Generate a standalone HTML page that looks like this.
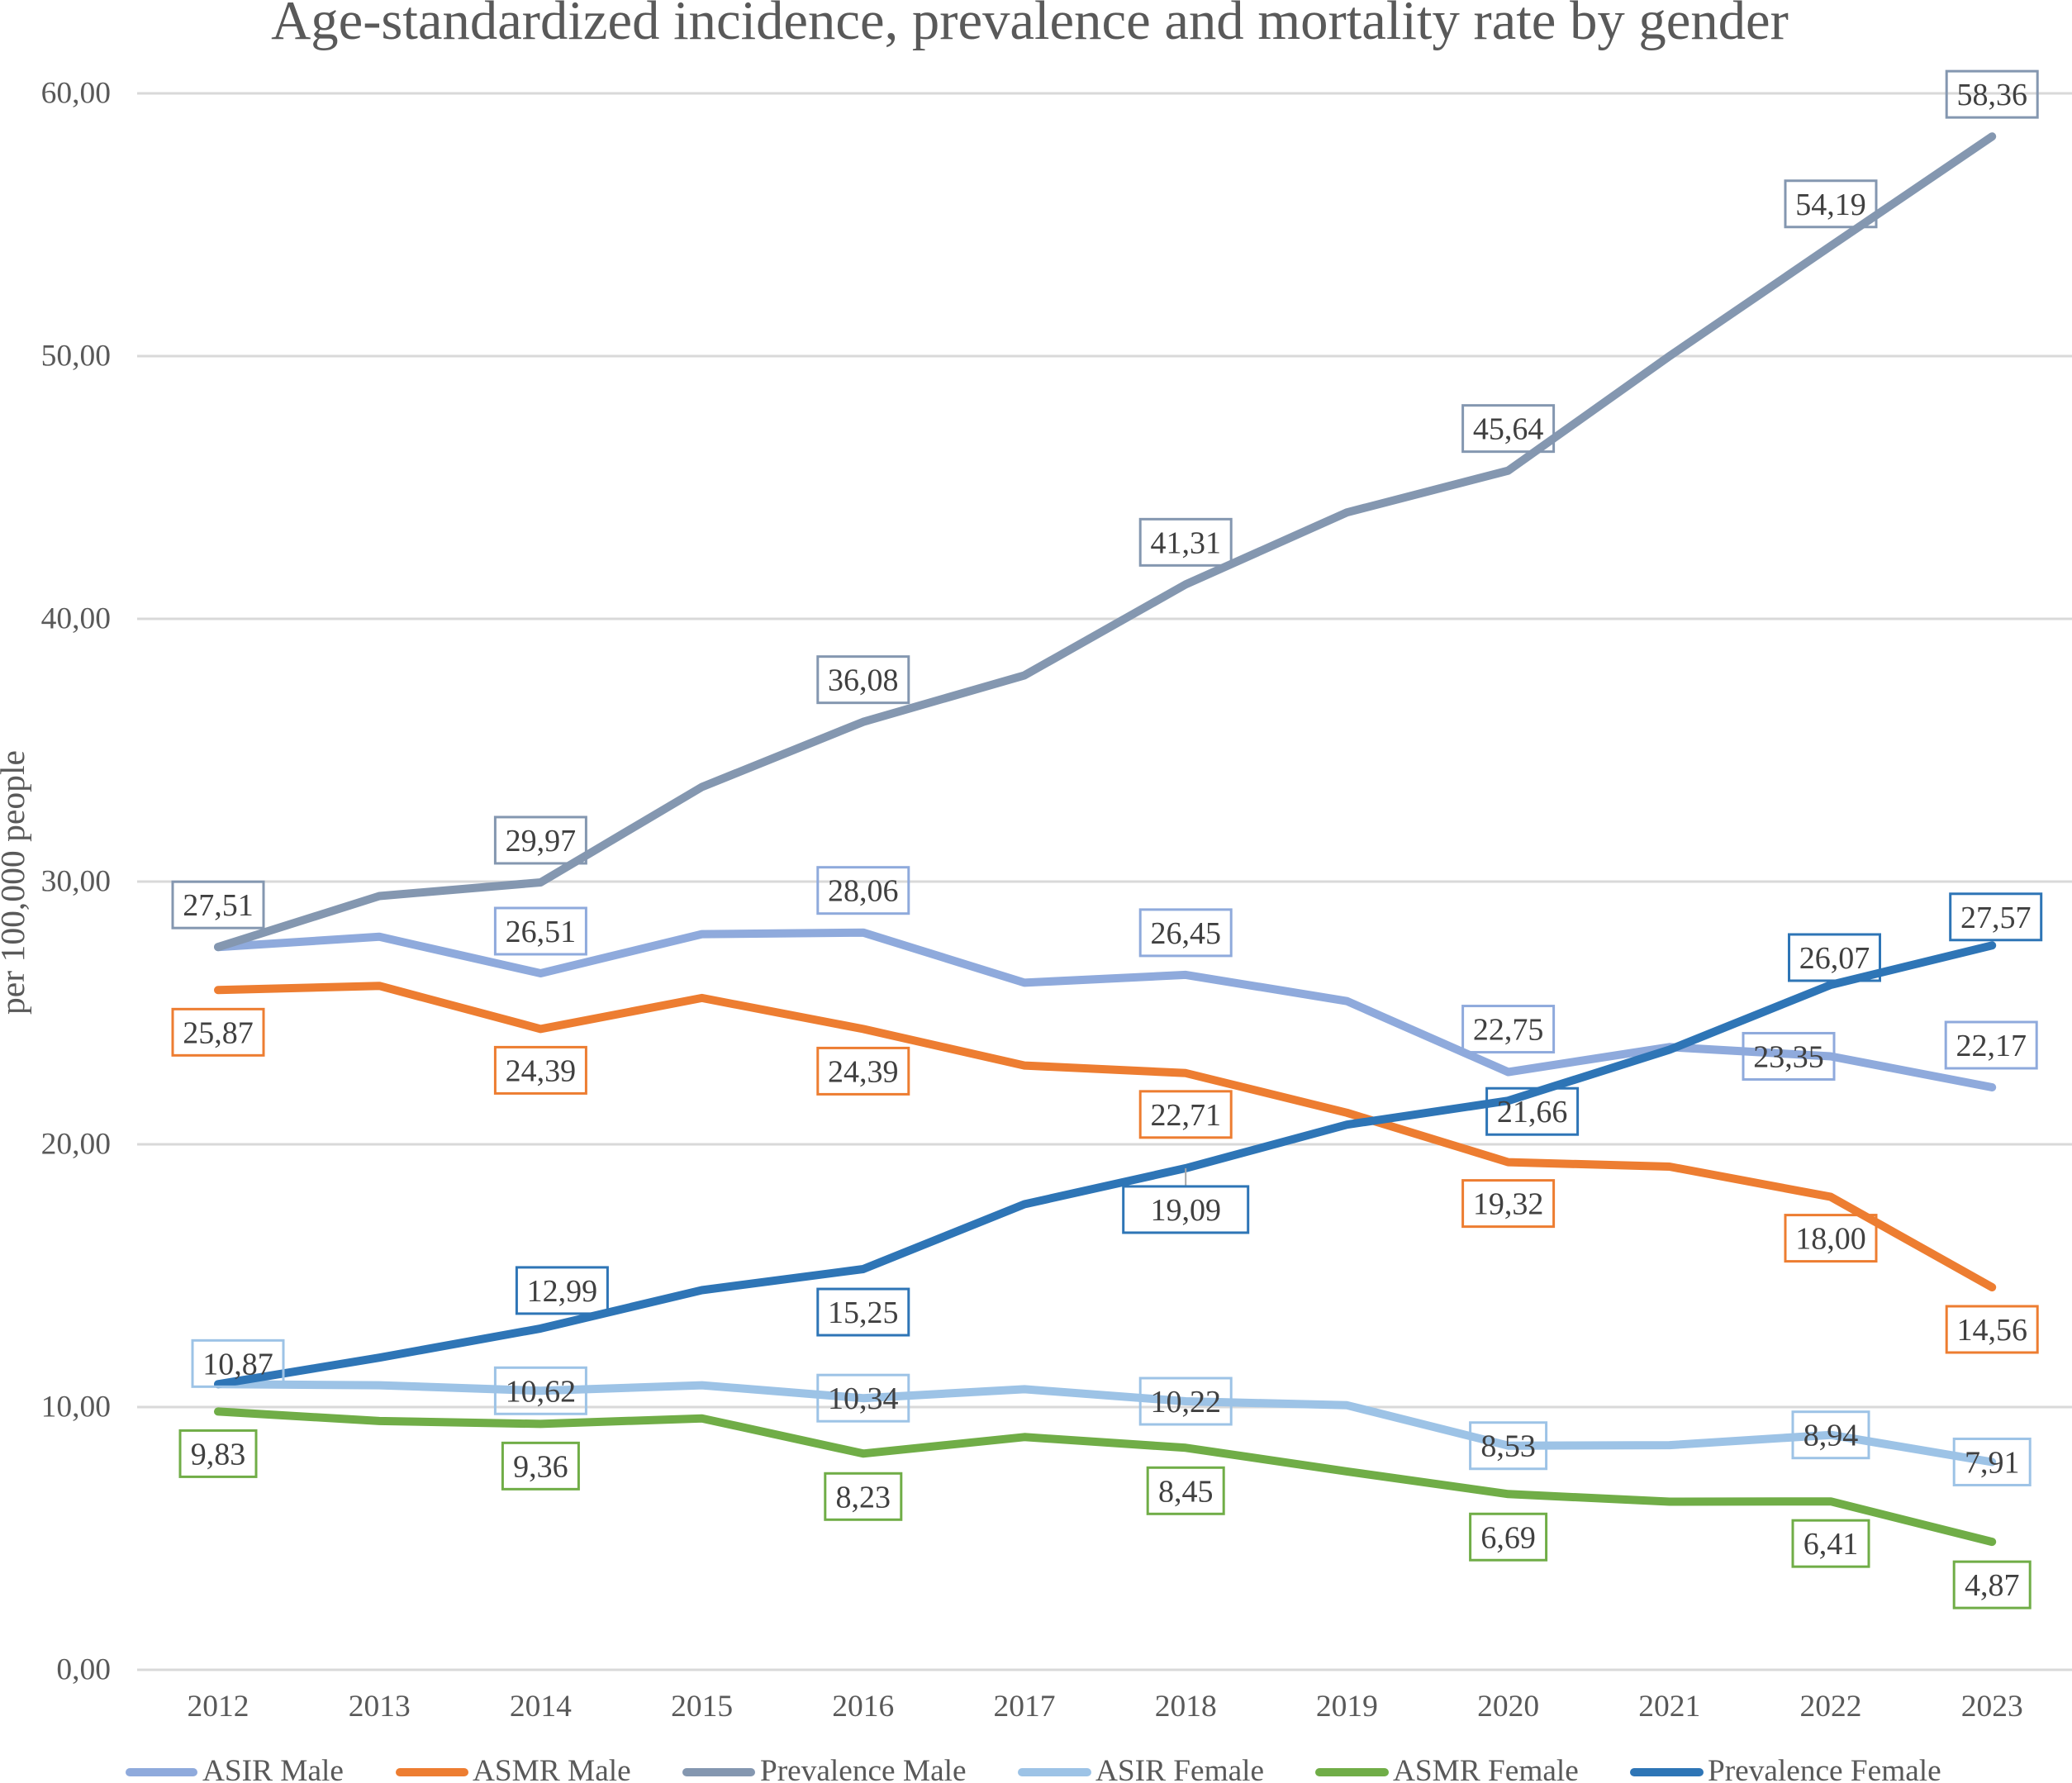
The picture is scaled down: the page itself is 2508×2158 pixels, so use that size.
<!DOCTYPE html>
<html lang="en">
<head>
<meta charset="utf-8">
<title>Age-standardized incidence, prevalence and mortality rate by gender</title>
<style>
html,body{margin:0;padding:0;background:#fff;width:2508px;height:2158px;overflow:hidden}
svg{display:block;font-family:"Liberation Serif","Times New Roman",serif}
</style>
</head>
<body>
<svg id="chart" xmlns="http://www.w3.org/2000/svg" width="2508" height="2158" viewBox="0 0 2508 2158">
  <rect x="0" y="0" width="2508" height="2158" fill="#ffffff"/>
  <text x="1246.5" y="47" text-anchor="middle" font-size="66.7" fill="#595959">Age-standardized incidence, prevalence and mortality rate by gender</text>
  <text transform="translate(29,1068) rotate(-90)" text-anchor="middle" font-size="41.6" fill="#595959">per 100,000 people</text>
  <g id="grid"></g>
  <g id="y-ticks"></g>
  <g id="x-ticks"></g>
  <g id="series"></g>
  <g id="labels"></g>
  <g font-size="37.3" fill="#595959">
    <g>
      <line x1="157" x2="234" y1="2145" y2="2145" stroke="#8faadc" stroke-width="10" stroke-linecap="round"/>
      <text x="245" y="2155">ASIR Male</text>
    </g>
    <g>
      <line x1="484" x2="562" y1="2145" y2="2145" stroke="#ed7d31" stroke-width="10" stroke-linecap="round"/>
      <text x="572" y="2155">ASMR Male</text>
    </g>
    <g>
      <line x1="831" x2="909" y1="2145" y2="2145" stroke="#8497b0" stroke-width="10" stroke-linecap="round"/>
      <text x="920" y="2155">Prevalence Male</text>
    </g>
    <g>
      <line x1="1237" x2="1316" y1="2145" y2="2145" stroke="#9dc3e6" stroke-width="10" stroke-linecap="round"/>
      <text x="1326" y="2155">ASIR Female</text>
    </g>
    <g>
      <line x1="1597" x2="1676" y1="2145" y2="2145" stroke="#70ad47" stroke-width="10" stroke-linecap="round"/>
      <text x="1686" y="2155">ASMR Female</text>
    </g>
    <g>
      <line x1="1978" x2="2057" y1="2145" y2="2145" stroke="#2e75b6" stroke-width="10" stroke-linecap="round"/>
      <text x="2067" y="2155">Prevalence Female</text>
    </g>
  </g>
</svg>
<script>
// ---- chart data ----
var years = [2012, 2013, 2014, 2015, 2016, 2017, 2018, 2019, 2020, 2021, 2022, 2023];
var yTicks = [0, 10, 20, 30, 40, 50, 60];
var asirMale = [27.51, 27.9, 26.51, 28.0, 28.06, 26.15, 26.45, 25.45, 22.75, 23.7, 23.35, 22.17];
var asmrMale = [25.87, 26.03, 24.39, 25.57, 24.39, 23.0, 22.71, 21.2, 19.32, 19.15, 18.0, 14.56];
var prevalenceMale = [27.51, 29.45, 29.97, 33.6, 36.08, 37.85, 41.31, 44.05, 45.64, 50.0, 54.19, 58.36];
var asirFemale = [10.87, 10.83, 10.62, 10.83, 10.34, 10.68, 10.22, 10.07, 8.53, 8.55, 8.94, 7.91];
var asmrFemale = [9.83, 9.47, 9.36, 9.57, 8.23, 8.86, 8.45, 7.55, 6.69, 6.4, 6.41, 4.87];
var prevalenceFemale = [10.87, 11.88, 12.99, 14.45, 15.25, 17.72, 19.09, 20.75, 21.66, 23.6, 26.07, 27.57];

// ---- axis functions ----
function xScale(i) { return 264 + 195.2 * i; }
function yScale(v) { return 2021 - 31.8 * v; }
function fmt(v) { return v.toFixed(2).replace('.', ','); }

var NS = 'http://www.w3.org/2000/svg';
function make(tag, parent, attrs) {
  var el = document.createElementNS(NS, tag);
  for (var k in attrs) { el.setAttribute(k, attrs[k]); }
  parent.appendChild(el);
  return el;
}

// label placement relative to each point: year index -> [dx, dy]
var seriesDefs = [
  { key: 'asir-male', values: asirMale, color: '#8faadc',
    place: { 2: [0, -51], 4: [0, -51], 6: [0, -51], 8: [0, -52], 10: [-51, 0], 11: [-1, -51] } },
  { key: 'asmr-male', values: asmrMale, color: '#ed7d31',
    place: { 0: [0, 51], 2: [0, 50], 4: [0, 51], 6: [0, 50], 8: [0, 50], 10: [0, 50], 11: [0, 51] } },
  { key: 'prevalence-male', values: prevalenceMale, color: '#8497b0',
    place: { 0: [0, -51], 2: [0, -51], 4: [0, -51], 6: [0, -51], 8: [0, -51], 10: [0, -51], 11: [0, -51] } },
  { key: 'asir-female', values: asirFemale, color: '#9dc3e6',
    place: { 0: [24, -25], 2: [0, 0], 4: [0, 0], 6: [0, 0], 8: [0, 0], 10: [0, 0], 11: [0, 0] } },
  { key: 'asmr-female', values: asmrFemale, color: '#70ad47',
    place: { 0: [0, 51], 2: [0, 51], 4: [0, 52], 6: [0, 52], 8: [0, 52], 10: [0, 51], 11: [0, 52] } },
  { key: 'prevalence-female', values: prevalenceFemale, color: '#2e75b6',
    place: { 2: [26, -46], 4: [0, 52], 6: [0, 50], 8: [29, 13], 10: [4.5, -33], 11: [4.5, -34.5] },
    wide: { 6: 151 } }
];

var grid = document.getElementById('grid');
var yTickGroup = document.getElementById('y-ticks');
var xTickGroup = document.getElementById('x-ticks');
var seriesGroup = document.getElementById('series');
var labelGroup = document.getElementById('labels');

yTicks.forEach(function (t) {
  var line = make('line', grid, { x1: 166, x2: 2508, y1: yScale(t), y2: yScale(t), stroke: '#d9d9d9', 'stroke-width': 3 });
  
  
  var label = make('text', yTickGroup, { x: 134, y: yScale(t) + 11.5, 'text-anchor': 'end', 'font-size': 37.5, fill: '#595959' });
  label.textContent = fmt(t);
  
  
});

years.forEach(function (yr, i) {
  var label = make('text', xTickGroup, { x: xScale(i), y: 2077, 'text-anchor': 'middle', 'font-size': 37.5, fill: '#595959' });
  label.textContent = yr;
  
  
});

seriesDefs.forEach(function (s) {
  var pts = s.values.map(function (v, i) { return xScale(i).toFixed(1) + ',' + yScale(v).toFixed(1); }).join(' ');
  var line = make('polyline', seriesGroup, { points: pts, fill: 'none', stroke: s.color, 'stroke-width': 10, 'stroke-linecap': 'round', 'stroke-linejoin': 'round' });
  
  
});

seriesDefs.forEach(function (s) {
  Object.keys(s.place).forEach(function (k) {
    var i = +k;
    var off = s.place[k];
    var v = s.values[i];
    var cx = xScale(i) + off[0];
    var cy = yScale(v) + off[1];
    var text = fmt(v);
    var w = (s.wide && s.wide[k]) ? s.wide[k] : (text.length === 4 ? 92 : 110);
    var h = 56;
    if (s.wide && s.wide[k]) {
      var leader = make('line', labelGroup, { x1: cx, x2: cx, y1: yScale(v), y2: cy - h / 2, stroke: '#a6a6a6', 'stroke-width': 2 });
      
      
    }
    var box = make('rect', labelGroup, { x: cx - w / 2, y: cy - h / 2, width: w, height: h, fill: 'none', stroke: s.color, 'stroke-width': 3 });
    
    
    var t = make('text', labelGroup, { x: cx, y: cy + 13, 'text-anchor': 'middle', 'font-size': 38, fill: '#404040' });
    t.textContent = text;
    
    
  });
});
</script>
</body>
</html>
